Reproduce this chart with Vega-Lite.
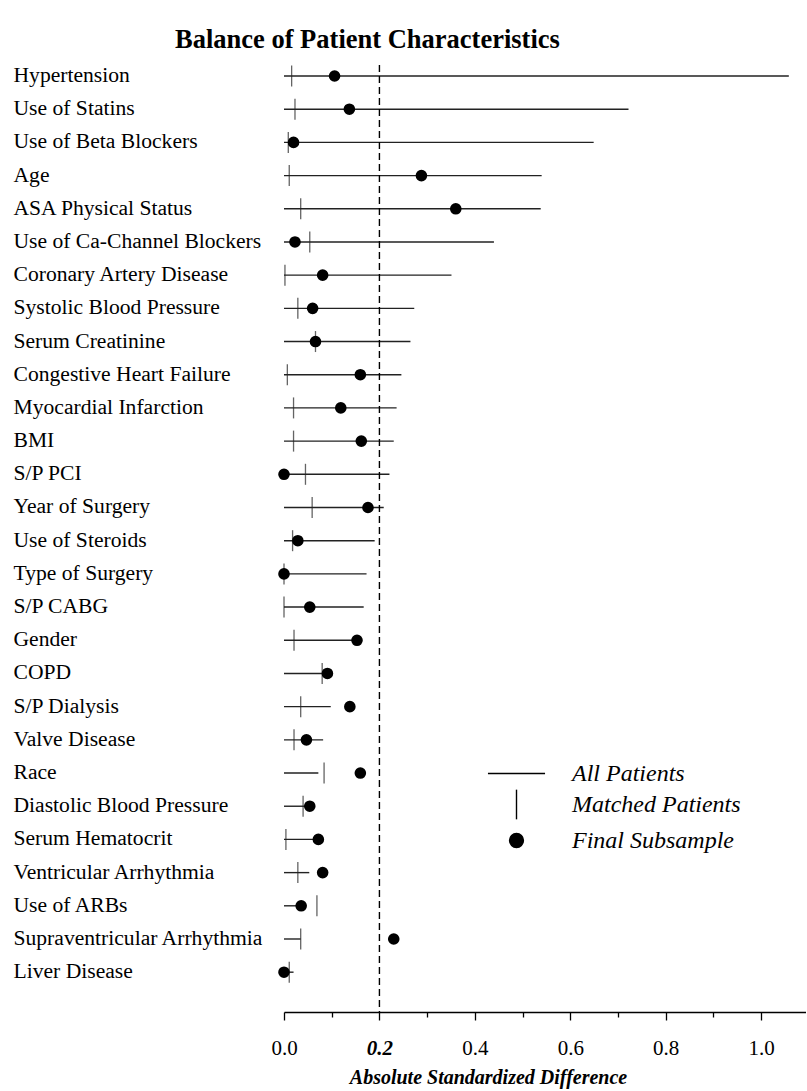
{
  "$schema": "https://vega.github.io/schema/vega-lite/v6.json",
  "width": 522,
  "height": 947,
  "padding": {"left": 13, "top": 26, "right": 0, "bottom": 2},
  "background": "white",
  "title": {
    "text": "Balance of Patient Characteristics",
    "font": "Liberation Serif",
    "fontSize": 26.5,
    "fontWeight": "bold",
    "color": "black",
    "anchor": "start",
    "frame": "bounds",
    "dx": 162,
    "offset": 11
  },
  "config": {
    "view": {"stroke": null},
    "font": "Liberation Serif"
  },
  "data": {
    "values": [
      {"name": "Hypertension", "all": 1.058, "matched": 0.016, "final": 0.106},
      {"name": "Use of Statins", "all": 0.722, "matched": 0.023, "final": 0.137},
      {"name": "Use of Beta Blockers", "all": 0.649, "matched": 0.009, "final": 0.020},
      {"name": "Age", "all": 0.540, "matched": 0.011, "final": 0.288},
      {"name": "ASA Physical Status", "all": 0.538, "matched": 0.035, "final": 0.360},
      {"name": "Use of Ca-Channel Blockers", "all": 0.440, "matched": 0.054, "final": 0.023},
      {"name": "Coronary Artery Disease", "all": 0.351, "matched": 0.002, "final": 0.081},
      {"name": "Systolic Blood Pressure", "all": 0.273, "matched": 0.029, "final": 0.060},
      {"name": "Serum Creatinine", "all": 0.265, "matched": 0.066, "final": 0.066},
      {"name": "Congestive Heart Failure", "all": 0.246, "matched": 0.007, "final": 0.160},
      {"name": "Myocardial Infarction", "all": 0.236, "matched": 0.020, "final": 0.119},
      {"name": "BMI", "all": 0.230, "matched": 0.020, "final": 0.162},
      {"name": "S/P PCI", "all": 0.221, "matched": 0.045, "final": 0.000},
      {"name": "Year of Surgery", "all": 0.209, "matched": 0.059, "final": 0.176},
      {"name": "Use of Steroids", "all": 0.190, "matched": 0.018, "final": 0.029},
      {"name": "Type of Surgery", "all": 0.173, "matched": 0.000, "final": 0.000},
      {"name": "S/P CABG", "all": 0.167, "matched": 0.000, "final": 0.054},
      {"name": "Gender", "all": 0.150, "matched": 0.021, "final": 0.153},
      {"name": "COPD", "all": 0.080, "matched": 0.080, "final": 0.091},
      {"name": "S/P Dialysis", "all": 0.098, "matched": 0.035, "final": 0.138},
      {"name": "Valve Disease", "all": 0.082, "matched": 0.021, "final": 0.047},
      {"name": "Race", "all": 0.072, "matched": 0.084, "final": 0.160},
      {"name": "Diastolic Blood Pressure", "all": 0.050, "matched": 0.040, "final": 0.054},
      {"name": "Serum Hematocrit", "all": 0.072, "matched": 0.004, "final": 0.072},
      {"name": "Ventricular Arrhythmia", "all": 0.053, "matched": 0.029, "final": 0.081},
      {"name": "Use of ARBs", "all": 0.027, "matched": 0.069, "final": 0.036},
      {"name": "Supraventricular Arrhythmia", "all": 0.035, "matched": 0.035, "final": 0.230},
      {"name": "Liver Disease", "all": 0.020, "matched": 0.011, "final": 0.000}
    ]
  },
  "encoding": {
    "y": {
      "field": "name",
      "type": "nominal",
      "sort": null,
      "scale": {"type": "band", "paddingInner": 0.337, "paddingOuter": 0.434, "align": 0},
      "axis": {
        "title": null,
        "ticks": false,
        "domain": false,
        "labelAlign": "left",
        "labelPadding": 271,
        "labelFont": "Liberation Serif",
        "labelFontSize": 21.6,
        "labelColor": "black",
        "labelLimit": 400
      }
    }
  },
  "layer": [
    {
      "mark": {"type": "rule", "color": "#222222", "strokeWidth": 1.4},
      "encoding": {
        "x": {
          "field": "all",
          "type": "quantitative",
          "scale": {"domain": [0, 1.094], "nice": false},
          "axis": {
            "values": [0, 0.1, 0.2, 0.3, 0.4, 0.5, 0.6, 0.7, 0.8, 0.9, 1.0],
            "labelExpr": "round(datum.value * 10) % 2 == 0 ? format(datum.value, '.1f') : ''",
            "tickSize": {"condition": {"test": "round(datum.value * 10) % 2 == 0", "value": 8}, "value": 5},
            "tickColor": "black",
            "tickWidth": 1.3,
            "domainColor": "black",
            "domainWidth": 1.5,
            "grid": false,
            "labelFlush": false,
            "labelOverlap": false,
            "labelFont": "Liberation Serif",
            "labelFontSize": 21,
            "labelColor": "black",
            "labelPadding": 17,
            "labelFontStyle": {"condition": {"test": "abs(datum.value - 0.2) < 0.001", "value": "italic"}, "value": "normal"},
            "labelFontWeight": {"condition": {"test": "abs(datum.value - 0.2) < 0.001", "value": "bold"}, "value": "normal"},
            "title": "Absolute Standardized Difference",
            "titleFont": "Liberation Serif",
            "titleFontSize": 20,
            "titleFontStyle": "italic",
            "titleFontWeight": "bold",
            "titleColor": "black",
            "titlePadding": 9,
            "titleX": 204
          }
        },
        "x2": {"datum": 0}
      }
    },
    {
      "mark": {"type": "tick", "color": "#222222", "thickness": 1.3, "size": 21, "orient": "vertical"},
      "encoding": {
        "x": {"field": "matched", "type": "quantitative"}
      }
    },
    {
      "mark": {"type": "point", "filled": true, "color": "black", "size": 135, "opacity": 1},
      "encoding": {
        "x": {"field": "final", "type": "quantitative"}
      }
    },
    {
      "data": {"values": [{}]},
      "mark": {"type": "rule", "color": "black", "strokeWidth": 1.4, "strokeDash": [7, 4]},
      "encoding": {
        "x": {"datum": 0.2, "type": "quantitative"},
        "y": null
      }
    },
    {
      "data": {
        "values": [
          {"series": "All Patients"},
          {"series": "Matched Patients"},
          {"series": "Final Subsample"}
        ]
      },
      "mark": {"type": "point", "opacity": 0, "stroke": "black"},
      "encoding": {
        "y": null,
        "x": {"datum": 0.5, "type": "quantitative"},
        "shape": {
          "field": "series",
          "type": "nominal",
          "scale": {
            "domain": ["All Patients", "Matched Patients", "Final Subsample"],
            "range": ["M-1.73,0H1.73", "M0,-0.9V0.9", "M-0.42,0A0.42,0.42,0,1,0,0.42,0A0.42,0.42,0,1,0,-0.42,0Z"]
          },
          "legend": {
            "orient": "none",
            "legendX": 215,
            "legendY": 691,
            "title": null,
            "labelFont": "Liberation Serif",
            "labelFontStyle": "italic",
            "labelFontSize": 24,
            "labelColor": "black",
            "labelOffset": 38,
            "symbolSize": 1089,
            "symbolStrokeColor": "black",
            "symbolStrokeWidth": 1.3,
            "symbolOpacity": 1,
            "rowPadding": 0,
            "labelLimit": 300,
            "encode": {
              "symbols": {
                "update": {
                  "stroke": {"value": "black"},
                  "strokeWidth": {"value": 1.4},
                  "opacity": {"value": 1},
                  "strokeOpacity": {"value": 1}
                }
              }
            }
          }
        },
        "fill": {
          "field": "series",
          "type": "nominal",
          "scale": {
            "domain": ["All Patients", "Matched Patients", "Final Subsample"],
            "range": ["transparent", "transparent", "black"]
          },
          "legend": {
            "orient": "none",
            "legendX": 215,
            "legendY": 691,
            "title": null,
            "labelFont": "Liberation Serif",
            "labelFontStyle": "italic",
            "labelFontSize": 24,
            "labelColor": "black",
            "labelOffset": 38,
            "symbolSize": 1089,
            "symbolStrokeColor": "black",
            "symbolStrokeWidth": 1.3,
            "symbolOpacity": 1,
            "rowPadding": 0,
            "labelLimit": 300,
            "encode": {
              "symbols": {
                "update": {
                  "stroke": {"value": "black"},
                  "strokeWidth": {"value": 1.4},
                  "opacity": {"value": 1},
                  "strokeOpacity": {"value": 1}
                }
              }
            }
          }
        }
      }
    }
  ]
}
